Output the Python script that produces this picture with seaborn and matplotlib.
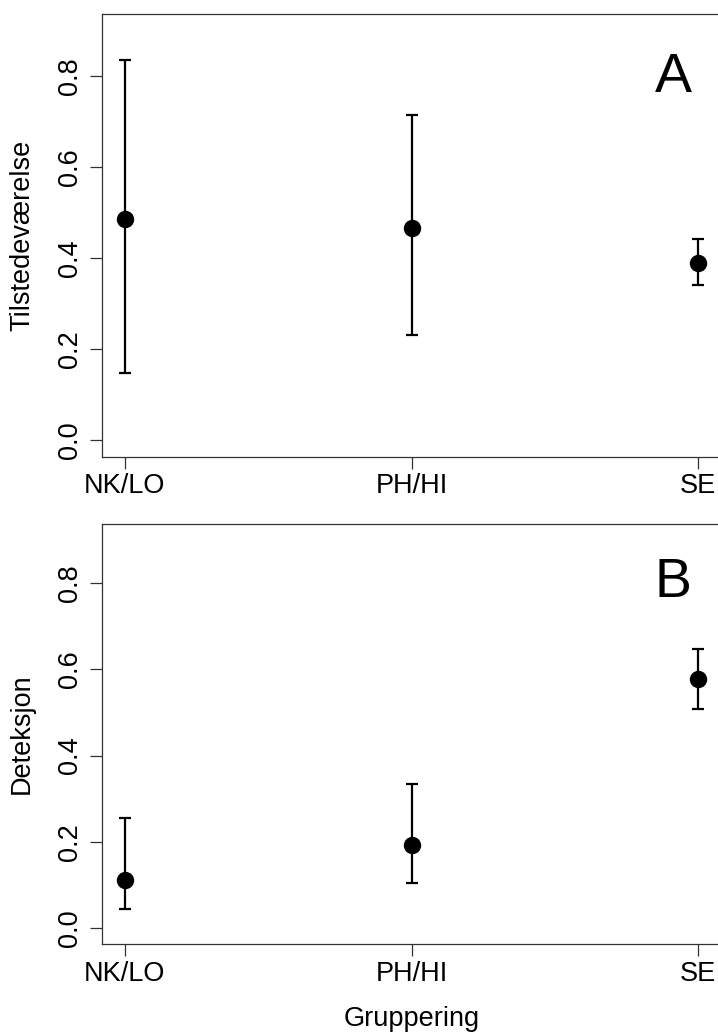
import numpy as np
import pandas as pd
import matplotlib
matplotlib.use("Agg")
import matplotlib.pyplot as plt
import seaborn as sns

# Groups and estimates with lower/upper confidence limits
groups = ["NK/LO", "PH/HI", "SE"]

presence_est = [0.485, 0.465, 0.389]
presence_low = [0.148, 0.231, 0.340]
presence_high = [0.836, 0.715, 0.442]

detection_est = [0.111, 0.194, 0.578]
detection_low = [0.045, 0.105, 0.508]
detection_high = [0.255, 0.334, 0.646]

y_ticks = [0.0, 0.2, 0.4, 0.6, 0.8]

sns.set_theme(style="ticks")
plt.rcParams["font.family"] = ["Liberation Sans", "DejaVu Sans"]
plt.rcParams["text.color"] = "black"
plt.rcParams["axes.labelcolor"] = "black"

W, H = 718, 1033
fig = plt.figure(figsize=(W / 100, H / 100), dpi=100)

left_px, right_px = 102, 721.3


def make_axes(top_px, bottom_px):
    return fig.add_axes([left_px / W, 1 - bottom_px / H,
                         (right_px - left_px) / W, (bottom_px - top_px) / H])


ax_a = make_axes(14, 456.5)
ax_b = make_axes(524, 944)

panels = [
    (ax_a, presence_est, presence_low, presence_high, "Tilstedeværelse", "A", 78),
    (ax_b, detection_est, detection_low, detection_high, "Deteksjon", "B", 583),
]

FS = 19.5
for ax, est, low, high, ylab, letter, letter_y in panels:
    df = pd.DataFrame({"gruppe": groups, "est": est, "low": low, "high": high})
    xs = np.arange(len(df))
    yerr = np.vstack([df["est"] - df["low"], df["high"] - df["est"]])
    ax.errorbar(xs, df["est"], yerr=yerr, fmt="none", ecolor="black",
                elinewidth=1.6, capsize=4, capthick=1.6, zorder=2)
    sns.pointplot(data=df, x="gruppe", y="est", order=groups, errorbar=None,
                  linestyle="none", marker="o", color="black",
                  markersize=10.5, ax=ax, zorder=3)

    ax.set_xlim(-0.08, 2.08)
    ax.set_ylim(-0.036, 0.936)
    ax.set_yticks(y_ticks)
    ax.set_yticklabels([f"{v:.1f}" for v in y_ticks])
    ax.set_xticks(xs)
    ax.set_xticklabels(groups)

    for s in ax.spines.values():
        s.set_visible(True)
        s.set_color("#333333")
        s.set_linewidth(0.9)

    ax.tick_params(axis="both", direction="out", length=8.6, width=0.9,
                   color="#333333", labelsize=FS, labelcolor="black")
    ax.tick_params(axis="x", pad=3.5)
    ax.tick_params(axis="y", pad=5, labelrotation=90)
    for lab in ax.get_yticklabels():
        lab.set_verticalalignment("center")
        lab.set_horizontalalignment("right")

    ax.set_ylabel(ylab, fontsize=FS, color="black")
    ax.yaxis.label.set_verticalalignment("center")
    ax.yaxis.set_label_coords((22 - left_px) / (right_px - left_px), 0.5)
    ax.set_xlabel("")

    fig.text(673 / W, 1 - letter_y / H, letter, fontsize=40, color="black",
             ha="center", va="center")

ax_b.set_xlabel("Gruppering", fontsize=FS, color="black")
ax_b.xaxis.label.set_verticalalignment("top")
ax_b.xaxis.set_label_coords(0.5, -(1006 - 944) / 420)

fig.savefig("out.png", dpi=100, facecolor="white")
